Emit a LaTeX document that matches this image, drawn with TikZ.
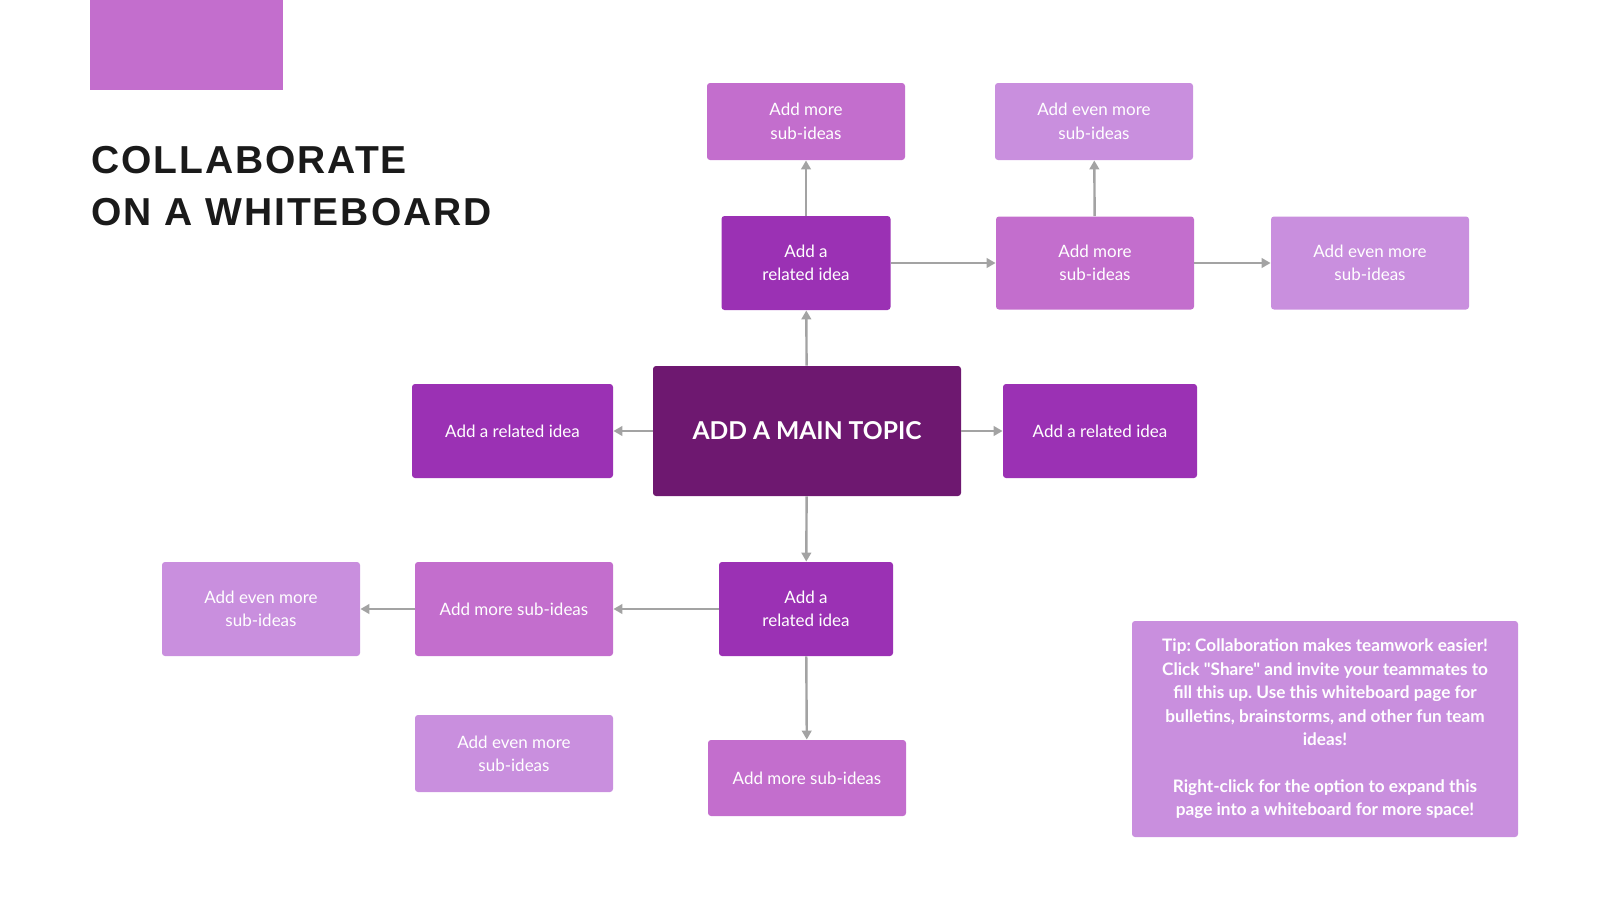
\documentclass[tikz,border=0pt]{standalone}
\usepackage{fontspec}
\setmainfont{Lato}
\newfontfamily\tipfont{Lato}
\newfontfamily\titlefont[LetterSpace=5]{Liberation Sans}
\usetikzlibrary{arrows.meta}
\usetikzlibrary{positioning}
\definecolor{topicpurple}{HTML}{6E1870}
\definecolor{relatedpurple}{HTML}{9B31B4}
\definecolor{morepurple}{HTML}{C36ECD}
\definecolor{evenpurple}{HTML}{C98FDE}
\definecolor{linkgray}{HTML}{A3A3A3}
\definecolor{titleblack}{HTML}{1A1A1A}
\frenchspacing

\begin{document}
\begin{tikzpicture}[x=0.5pt,y=-0.5pt]
\tikzset{idea/.style={rectangle,rounded corners=1.5pt,text=white,align=center,inner sep=0pt,font=\fontsize{8.5}{11.7}\selectfont,minimum height=47pt},
related/.style={idea,fill=relatedpurple},
more/.style={idea,fill=morepurple,minimum width=99pt},
evenmore/.style={idea,fill=evenpurple,minimum width=99pt},
link/.style={draw=linkgray,line width=1.2pt,-{Triangle[length=4.5pt,width=4.8pt]}},
heading/.style={anchor=base west,inner sep=0pt,text=titleblack,font=\titlefont\bfseries\fontsize{19.5}{26}\selectfont}}
\useasboundingbox (0,0) rectangle (1600,900);
\fill[morepurple] (90,0) rectangle (283,90);
\node[heading](t1) at (91,173){COLLABORATE};
\node[heading](t2) at (91,225){ON A WHITEBOARD};
% main topic
\node[idea,fill=topicpurple,minimum width=154pt,minimum height=65pt,font=\bfseries\fontsize{12.3}{14}\selectfont](main) at (807,431){ADD A MAIN TOPIC};
% upper branch
\node[related,minimum width=84.5pt](rt) at (806,263){Add a\\related idea};
\node[more,minimum height=38.5pt](rts) at (806,121.5){Add more\\sub-ideas};
\node[more,minimum height=46.5pt](rtm) at (1095,263){Add more\\sub-ideas};
\node[evenmore,minimum height=38.5pt](rtms) at (1094,121.5){Add even more\\sub-ideas};
\node[evenmore,minimum height=46.5pt](rtme) at (1370,263){Add even more\\sub-ideas};
% side branches
\node[related,minimum width=100.5pt](rl) at (512.5,431){Add a related idea};
\node[related,minimum width=97pt](rr) at (1100,431){Add a related idea};
% lower branch
\node[related,minimum width=87pt](rb) at (806,609){Add a\\related idea};
\node[more](rbm) at (514,609){Add more sub-ideas};
\node[evenmore](rbme) at (261,609){Add even more\\sub-ideas};
\node[evenmore,minimum height=38.5pt](rbe) at (514,753.5){Add even more\\sub-ideas};
\node[more,minimum height=38pt](rbs) at (807,778){Add more sub-ideas};
% tip
\node[idea,fill=evenpurple,minimum width=193pt,minimum height=108pt,font=\tipfont\bfseries\fontsize{8.6}{11.7}\selectfont](tip) at (1325,729){Tip: Collaboration makes teamwork easier!\\Click "Share" and invite your teammates to\\fill this up. Use this whiteboard page for\\bulletins, brainstorms, and other fun team\\ideas!\\[11.7pt]Right-click for the option to expand this\\page into a whiteboard for more space!};
% links
\draw[link](main) -- (rt);
\draw[link](rt) -- (rts);
\draw[link](rt) -- (rtm);
\draw[link](rtm) -- (rtms);
\draw[link](rtm) -- (rtme);
\draw[link](main) -- (rl);
\draw[link](main) -- (rr);
\draw[link](main) -- (rb);
\draw[link](rb) -- (rbs);
\draw[link](rb) -- (rbm);
\draw[link](rbm) -- (rbme);
\end{tikzpicture}
\end{document}
